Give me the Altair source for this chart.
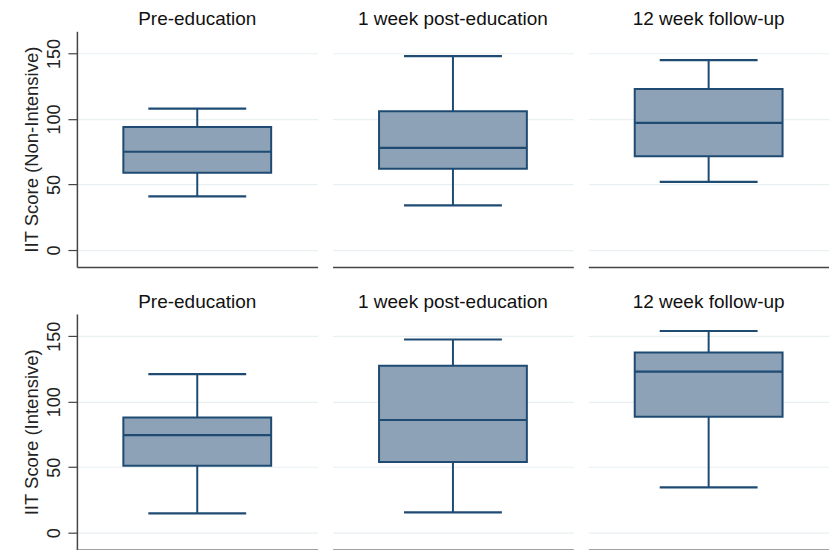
import altair as alt
import pandas as pd

times = ["Pre-education", "1 week post-education", "12 week follow-up"]
groups = ["Non-Intensive", "Intensive"]

# box statistics per group, in the order of `times`
lower_nonint = [41, 34, 52]
q1_nonint = [59, 62, 71.5]
median_nonint = [75, 78, 97]
q3_nonint = [94, 106, 123]
upper_nonint = [108, 148, 145]

lower_int = [14.7, 15.5, 34.6]
q1_int = [51, 54, 88.5]
median_int = [74.5, 86, 123]
q3_int = [88, 127.5, 137.5]
upper_int = [121, 147.5, 154]

stats = {
    "Non-Intensive": (lower_nonint, q1_nonint, median_nonint, q3_nonint, upper_nonint),
    "Intensive": (lower_int, q1_int, median_int, q3_int, upper_int),
}

FONT = "Liberation Sans"
FILL = "#8DA2B6"
STROKE = "#1F4B73"
W, H = 241, 236


def panel(group, i):
    lo, q1, med, q3, up = stats[group]
    df = pd.DataFrame({"time": [times[i]], "lower": [lo[i]], "q1": [q1[i]],
                       "median": [med[i]], "q3": [q3[i]], "upper": [up[i]]})
    x = alt.X("time:N",
              scale=alt.Scale(paddingInner=0, paddingOuter=0),
              axis=alt.Axis(title=None, labels=False, ticks=False, grid=False,
                            domain=True, domainColor="#444444", domainWidth=1.5))
    yscale = alt.Scale(domain=[-13, 167], nice=False, zero=False)
    if i == 0:
        yaxis = alt.Axis(title=f"IIT Score ({group})", values=[0, 50, 100, 150],
                         grid=True, gridColor="#E8F0F2", gridWidth=1.2,
                         domain=True, domainColor="#444444", domainWidth=1.5,
                         tickColor="#444444", tickSize=9, tickWidth=1.2,
                         labelAngle=270, labelAlign="center", labelBaseline="bottom",
                         labelFont=FONT, labelFontSize=18, labelColor="#222222",
                         labelPadding=4,
                         titleFont=FONT, titleFontSize=18.5, titleFontWeight="normal",
                         titleColor="#222222", titlePadding=4)
    else:
        yaxis = alt.Axis(title=None, values=[0, 50, 100, 150], grid=True,
                         gridColor="#E8F0F2", gridWidth=1.2, domain=False,
                         ticks=False, labels=False)
    base = alt.Chart(df)
    whisk_lo = base.mark_rule(color=STROKE, strokeWidth=2).encode(
        x=x, y=alt.Y("lower:Q", scale=yscale, axis=yaxis), y2="q1:Q")
    whisk_hi = base.mark_rule(color=STROKE, strokeWidth=2).encode(
        x=x, y=alt.Y("q3:Q", scale=yscale, axis=yaxis), y2="upper:Q")
    box = base.mark_bar(size=148, fill=FILL, stroke=STROKE, strokeWidth=2).encode(
        x=x, y=alt.Y("q1:Q", scale=yscale, axis=yaxis), y2="q3:Q")
    med_t = base.mark_tick(size=148, thickness=2.2, color=STROKE, opacity=1).encode(
        x=x, y=alt.Y("median:Q", scale=yscale, axis=yaxis))
    cap_lo = base.mark_tick(size=98, thickness=2.2, color=STROKE, opacity=1).encode(
        x=x, y=alt.Y("lower:Q", scale=yscale, axis=yaxis))
    cap_hi = base.mark_tick(size=98, thickness=2.2, color=STROKE, opacity=1).encode(
        x=x, y=alt.Y("upper:Q", scale=yscale, axis=yaxis))
    return alt.layer(whisk_lo, whisk_hi, box, med_t, cap_lo, cap_hi).properties(
        width=W, height=H,
        title=alt.TitleParams(times[i], font=FONT, fontSize=19, fontWeight="normal",
                              color="#111111", anchor="middle", offset=2))


rows = [alt.hconcat(*[panel(g, i) for i in range(3)], spacing=15) for g in groups]

chart = alt.vconcat(*rows, spacing=26).properties(
    padding={"left": 23, "top": 10, "right": 0, "bottom": 0},
    background="white",
).configure_view(stroke=None)

chart.save("out.html", embed_options={"renderer": "svg", "actions": False})
